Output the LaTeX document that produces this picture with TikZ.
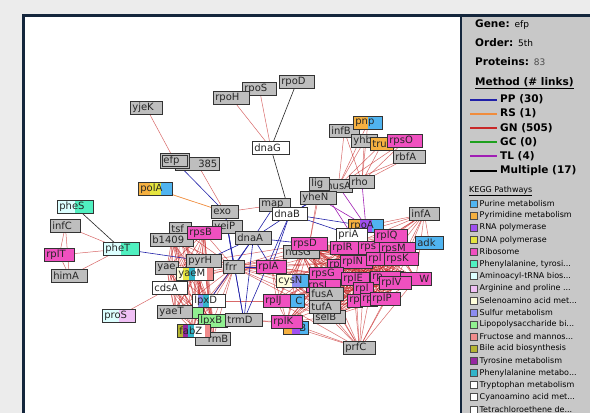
\documentclass[tikz,border=0pt]{standalone}
\usepackage{fontspec}
\setmainfont{DejaVu Sans}
\usetikzlibrary{calc}
\pgfdeclarelayer{canvas}
\pgfdeclarelayer{links}
\pgfsetlayers{canvas,links,main}
\newcommand{\genefont}{\fontsize{10}{10}\selectfont}
\newcommand{\headfont}{\fontsize{10.5}{12}\selectfont\bfseries}
\newcommand{\valfont}{\fontsize{9}{10}\selectfont\mdseries}
\newcommand{\keggfont}{\fontsize{8}{9}\selectfont}
\newcommand{\trunc}{...}
\definecolor{framec}{HTML}{14263C}
\definecolor{bgc}{HTML}{ECECEC}
\definecolor{panelc}{HTML}{C8C8C8}
\definecolor{ngray}{HTML}{BEBEBE}
\definecolor{npink}{HTML}{F050C0}
\definecolor{nblue}{HTML}{50B4F0}
\definecolor{norange}{HTML}{F5B040}
\definecolor{npurple}{HTML}{A050F0}
\definecolor{nyellow}{HTML}{E6E640}
\definecolor{naqua}{HTML}{50F0C0}
\definecolor{ncyan}{HTML}{DCFFFF}
\definecolor{nlav}{HTML}{F0C0F5}
\definecolor{nlyel}{HTML}{FFFFDC}
\definecolor{nslate}{HTML}{8C8CF0}
\definecolor{ngreen}{HTML}{90F090}
\definecolor{nsalmon}{HTML}{F08C8C}
\definecolor{nolive}{HTML}{B4B432}
\definecolor{nmag}{HTML}{9628A0}
\definecolor{nteal}{HTML}{32B4C8}
\definecolor{ppc}{HTML}{2020A8}
\definecolor{rsc}{HTML}{F08C3C}
\definecolor{gnc}{HTML}{C82828}
\definecolor{gcc}{HTML}{1EA01E}
\definecolor{tlc}{HTML}{A01EB4}

\begin{document}
\begin{tikzpicture}
[x=1pt,y=-1pt,
    gene/.style={draw=black!80,line width=.7pt,fill=ngray,text=black!85,font=\genefont,
      anchor=west,align=left,text width=#1,inner xsep=2pt,inner ysep=0pt,minimum height=13pt},
    gene/.default=27pt,
    ribo/.style={fill=npink},
    whitebox/.style={fill=white},
    stripes/.style 2 args={path picture={
      \foreach \col [count=\i from 0] in {#2} {
        \pgfmathsetmacro\fa{\i/#1}\pgfmathsetmacro\fb{(\i+1)/#1}
        \fill[\col] ($(path picture bounding box.south west)!\fa!(path picture bounding box.south east)$)
          rectangle ($(path picture bounding box.north west)!\fb!(path picture bounding box.north east)$);}}},
    pp/.style={ppc,line width=.6pt},
    gn/.style={gnc,line width=.5pt,opacity=.7},
    rs/.style={rsc,line width=.7pt},
    tl/.style={tlc,line width=.6pt},
    multi/.style={black!85,line width=.6pt}]
%%%%%%%%%%
%% window
\useasboundingbox (0,0) rectangle (590,413);
\begin{pgfonlayer}{canvas}
\fill[bgc] (0,0) rectangle (590,413);
\fill[white] (25,17) rectangle (461,413);
\fill[panelc] (461,17) rectangle (590,413);
\draw[framec,line width=3pt] (23.5,413) -- (23.5,15.5) -- (590,15.5);
\draw[framec,line width=2pt] (461,17) -- (461,413);
\end{pgfonlayer}
%%%%%%%%%%
%% genes, top
\node[gene=28pt] (yjeK) at (130,108) {yjeK};
\node[gene=40pt,align=right] (n385) at (175,164) {385};
\node[gene=23pt,double=ngray,double distance=1pt] (efp) at (161,161) {efp};
\node[gene=30pt,stripes={3}{norange,nyellow,nblue}] (polA) at (138,189) {polA};
\node[gene=30pt] (rpoS) at (242,89) {rpoS};
\node[gene=32pt] (rpoH) at (213,98) {rpoH};
\node[gene=31pt] (rpoD) at (279,82) {rpoD};
\node[gene=33pt,whitebox] (dnaG) at (252,148) {dnaG};
\node[gene=23pt] (exo) at (211,212) {exo};
\node[gene=27pt] (map) at (259,205) {map};
\node[gene=31pt,whitebox] (dnaB) at (272,214) {dnaB};
%%
\node[gene=24pt] (nusA) at (324,186) {nusA};
\node[gene=16pt] (lig) at (309,184) {lig};
\node[gene=32pt] (yheN) at (300,198) {yheN};
\node[gene=21pt] (rho) at (349,182) {rho};
\node[gene=26pt] (infB) at (329,131) {infB};
\node[gene=22pt] (yhbC) at (351,141) {yhb};
\node[gene=25pt,stripes={2}{norange,nblue}] (pnp) at (353,123) {pnp};
\node[gene=19pt,fill=norange] (truB) at (370,144) {tru};
\node[gene=31pt,ribo] (rpsO) at (387,141) {rpsO};
\node[gene=28pt] (rbfA) at (393,157) {rbfA};
%%%%%%%%%%
%% genes, left
\node[gene=32pt,stripes={2}{ncyan,naqua}] (pheS) at (57,207) {pheS};
\node[gene=26pt] (infC) at (50,226) {infC};
\node[gene=26pt,ribo] (rplT) at (44,255) {rplT};
\node[gene=32pt] (himA) at (51,276) {himA};
\node[gene=32pt,stripes={2}{ncyan,naqua}] (pheT) at (103,249) {pheT};
\node[gene=29pt,stripes={2}{ncyan,nlav}] (proS) at (102,316) {proS};
%%
\node[gene=18pt] (tsf) at (169,229) {tsf};
\node[gene=39pt] (b1409) at (150,240) {b1409};
\node[gene=26pt] (yeiP) at (212,227) {yeiP};
\node[gene=30pt,ribo] (rpsB) at (187,233) {rpsB};
\node[gene=32pt] (dnaA) at (235,238) {dnaA};
\node[gene=19pt] (yaeL) at (155,268) {yae};
\node[gene=31pt] (pyrH) at (186,261) {pyrH};
\node[gene=33pt,stripes={6}{nlyel,nyellow,nteal,white,white,nsalmon}] (yaeM) at (176,274) {yaeM};
\node[gene=17pt] (frr) at (223,267) {frr};
\node[gene=26pt,ribo] (rplA) at (256,267) {rplA};
\node[gene=31pt,whitebox] (cdsA) at (152,288) {cdsA};
\node[gene=10pt,fill=ngreen] (lpxA) at (189,312) {};
\node[gene=31pt] (yaeT) at (157,312) {yaeT};
\node[gene=29pt,stripes={6}{white,nslate,nteal,white,white,white}] (lpxD) at (192,301) {lpxD};
\node[gene=25pt,fill=ngreen] (lpxB) at (198,321) {lpxB};
\node[gene=33pt] (trmD) at (225,320) {trmD};
\node[gene=31pt,align=right] (rrmB) at (195,339) {rmB};
\node[gene=29pt,stripes={6}{nolive,nmag,nteal,white,white,nsalmon}] (fabZ) at (177,331) {fabZ};
%%%%%%%%%%
%% genes, right
\node[gene=32pt] (nusG) at (283,252) {nusG};
\node[gene=32pt,ribo] (rpsD) at (291,244) {rpsD};
\node[gene=31pt,stripes={3}{norange,npurple,nblue}] (rpoA) at (348,226) {rpoA};
\node[gene=27pt,whitebox] (priA) at (336,235) {priA};
\node[gene=26pt] (infA) at (409,214) {infA};
\node[gene=24pt,ribo] (rplR) at (330,248) {rplR};
\node[gene=21pt,ribo] (rpsE) at (358,248) {rps};
\node[gene=29pt,ribo] (rplQ) at (374,236) {rplQ};
\node[gene=32pt,ribo] (rpsM) at (379,249) {rpsM};
\node[gene=24pt,fill=nblue] (adk) at (415,243) {adk};
\node[gene=11pt,ribo] (rplB) at (327,266) {rp};
\node[gene=28pt,ribo] (rplN) at (340,262) {rplN};
\node[gene=17pt,ribo] (rplF) at (366,259) {rpl};
\node[gene=30pt,ribo] (rpsK) at (384,259) {rpsK};
\node[gene=30pt,ribo] (rpsG) at (309,274) {rpsG};
\node[gene=24pt,ribo] (rplE) at (341,279) {rplE};
\node[gene=29pt,ribo] (rpsC) at (370,278) {rp};
\node[gene=27pt,ribo,align=right] (rplW) at (400,279) {W};
\node[gene=28pt,ribo] (rplV) at (379,283) {rplV};
\node[gene=30pt,ribo] (rpsL) at (306,286) {rpsL};
\node[gene=16pt,ribo] (rplX) at (353,289) {rpl};
\node[gene=11pt,ribo] (rpsS) at (347,301) {rp};
\node[gene=13pt,ribo] (rplD) at (360,300) {rp};
\node[gene=26pt,ribo] (rplP) at (370,299) {rplP};
\node[gene=30pt] (fusA) at (309,294) {fusA};
\node[gene=28pt] (selB) at (313,317) {selB};
\node[gene=27pt] (tufA) at (309,307) {tufA};
\node[gene=28pt,stripes={4}{nlyel,nlyel,nslate,nblue}] (cysN) at (276,281) {cysN};
\node[gene=24pt,align=right,stripes={2}{nslate,nblue}] (cysC) at (276,301) {C};
\node[gene=23pt,ribo] (rplJ) at (263,301) {rplJ};
\node[gene=21pt,align=right,stripes={3}{norange,npurple,nblue}] (cysB) at (283,328) {B};
\node[gene=27pt,ribo] (rplK) at (271,322) {rplK};
\node[gene=28pt] (prfC) at (343,348) {prfC};
%%%%%%%%%%
%% links
\begin{pgfonlayer}{links}
\def\leftgrp{tsf,b1409,rpsB,yaeL,yaeM,pyrH,cdsA,yaeT,lpxD,lpxA,lpxB,fabZ,rrmB,frr}
\def\ribgrp{rpsD,nusG,rplR,rpsE,rplQ,rpsM,rplB,rplN,rplF,rpsK,rpsG,rplE,rpsC,rplW,rplV,rpsL,rplX,rpsS,rplD,rplP,fusA,tufA,selB}
\foreach \a [count=\i] in \leftgrp {\foreach \b [count=\j] in \leftgrp {\ifnum\j>\i \draw[gn] (\a) -- (\b);\fi}}
\foreach \a [count=\i] in \ribgrp {\foreach \b [count=\j] in \ribgrp {\ifnum\j>\i \draw[gn] (\a) -- (\b);\fi}}
\foreach \a in {rplA,rplJ,rplK,cysN,frr}
  \foreach \b in {rpsD,nusG,rpsG,rpsL,fusA,tufA,selB,rplN,rplE,rplR} \draw[gn] (\a) -- (\b);
\foreach \b in {fusA,tufA,selB,rplP,rplV,rpsG,rplE,rplK,rplJ,rpsL,rplX,rpsS,rplD,cysB,rplW} \draw[gn] (prfC) -- (\b);
\foreach \b in {rplQ,rpsM,rpsK,rplV,rplW,rplN,rpsE,rplR,priA,rpoA,adk,rplF} \draw[gn] (infA) -- (\b);
\foreach \a in {nusA,rho}
  \foreach \b in {infB,pnp,yhbC,truB,rpsO,rbfA} \draw[gn] (\a) -- (\b);
\foreach \a/\b in {pheT/infC,pheT/rplT,pheT/himA,infC/rplT,infC/himA,rplT/himA,proS/cdsA,
  yjeK/efp,n385/exo,rpoH/dnaG,rpoS/dnaG,exo/map,yheN/rpsD,lig/rpsD,pyrH/rplA,yaeM/rplA,
  pyrH/rpsD,lpxD/rplJ,lpxB/rplK,trmD/rplK,rplA/rplJ,rplA/rplK,rplJ/rplK} \draw[gn] (\a) -- (\b);
\draw[rs] (polA) -- (exo);
\foreach \a/\b in {efp/exo,pheT/pyrH,exo/trmD,yeiP/trmD,dnaA/frr,dnaA/rplA,dnaA/trmD,dnaA/rpsD,
  dnaA/dnaB,dnaB/rplA,dnaB/trmD,frr/rplA,dnaB/rpoA,dnaB/priA,nusA/dnaB,yheN/dnaB,dnaA/lpxD,
  pyrH/dnaA,exo/frr,map/dnaA} \draw[pp] (\a) -- (\b);
\foreach \a/\b in {nusA/rpoA,rho/rpoA,yheN/rpoA,lig/priA} \draw[tl] (\a) -- (\b);
\foreach \a/\b in {rpoD/dnaG,dnaG/dnaB,pheS/pheT} \draw[multi] (\a) -- (\b);
\end{pgfonlayer}
%%%%%%%%%%
%% side panel
\node[anchor=west,font=\headfont,inner sep=0pt] (gene) at (475,25) {Gene: {\valfont efp}};
\node[anchor=west,font=\headfont,inner sep=0pt] (order) at (475,43) {Order: {\valfont 5th}};
\node[anchor=west,font=\headfont,inner sep=0pt] (prot) at (475,62) {Proteins: {\valfont\color{black!70}83}};
\node[anchor=west,font=\headfont,inner sep=0pt] (method) at (475,83) {\underline{Method (\# links)}};
\foreach \col/\txt [count=\k from 0] in {ppc/PP (30),rsc/RS (1),gnc/GN (505),gcc/GC (0),tlc/TL (4),black/Multiple (17)} {
  \pgfmathsetmacro\yy{99.5+14.2*\k}
  \draw[\col,line width=2pt] (470,\yy) -- (497,\yy);
  \node[anchor=west,font=\headfont,inner sep=0pt] (meth\k) at (500,\yy) {\txt};
}
\node[anchor=west,font=\keggfont,inner sep=0pt] (kegg) at (469,191) {\underline{KEGG Pathways}};
\foreach \col/\txt [count=\k from 0] in {nblue/Purine metabolism,norange/Pyrimidine metabolism,
  npurple/RNA polymerase,nyellow/DNA polymerase,npink/Ribosome,naqua/{Phenylalanine, tyrosi\trunc},
  ncyan/Aminoacyl-tRNA bios\trunc,nlav/Arginine and proline \trunc,nlyel/Selenoamino acid met\trunc,
  nslate/Sulfur metabolism,ngreen/Lipopolysaccharide bi\trunc,nsalmon/Fructose and mannos\trunc,
  nolive/Bile acid biosynthesis,nmag/Tyrosine metabolism,nteal/Phenylalanine metabo\trunc,
  white/Tryptophan metabolism,white/Cyanoamino acid met\trunc,white/Tetrachloroethene de\trunc} {
  \pgfmathsetmacro\yy{203.5+12.1*\k}
  \draw[black!70,fill=\col] (470,\yy-3.5) rectangle (477,\yy+3.5);
  \node[anchor=west,font=\keggfont,inner sep=0pt] (path\k) at (479.5,\yy) {\txt};
}
\end{tikzpicture}
\end{document}
